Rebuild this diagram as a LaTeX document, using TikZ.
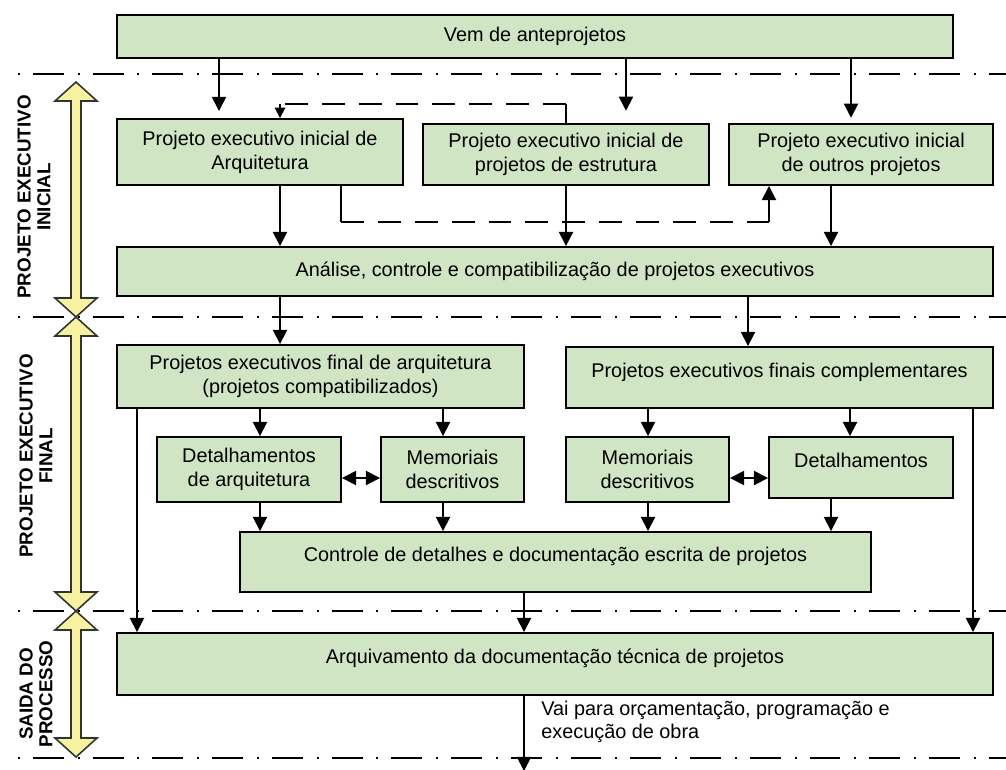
\documentclass[tikz,border=0pt]{standalone}
\usepackage{fontspec}
\setmainfont{Liberation Sans}
\usetikzlibrary{arrows.meta,calc}
\definecolor{BoxGreen}{HTML}{D0E5C3}
\definecolor{PhaseYellow}{HTML}{F7F2A0}
\definecolor{EdgeGray}{HTML}{333333}

\begin{document}
\begin{tikzpicture}[x=0.02cm, y=-0.02cm, >={Triangle[length=8pt,width=8pt]},
    stepbox/.style 2 args={draw, line width=1.1pt, fill=BoxGreen, inner sep=0pt, align=center,
      minimum width=#1*0.02cm, minimum height=#2*0.02cm,
      font=\fontsize{11.3}{13.5}\selectfont},
    link/.style={line width=1pt},
    arr/.style={link, ->},
    dlink/.style={link, dash pattern=on 13pt off 8pt},
    phaseline/.style={line width=1.1pt, dash pattern=on 1.1pt off 7.4pt on 17.6pt off 7.9pt},
    phasebar/.style={draw=EdgeGray, line width=0.9pt, fill=PhaseYellow},
    phaselabel/.style={rotate=90, align=center, font=\bfseries\fontsize{10.7}{11.3}\selectfont}]

    \useasboundingbox (0,0) rectangle (1006,769);

    % phase separators and phase arrows
    \foreach \yy in {74,317,611,758}
      \draw[phaseline] (18,\yy) -- (1006,\yy);
    \foreach \ya/\yb in {82/317,317/611,611/757}
      \draw[phasebar] (76,\ya) -- (97,\ya+19) -- (81,\ya+19) -- (81,\yb-19) -- (97,\yb-19)
        -- (76,\yb) -- (55,\yb-19) -- (71,\yb-19) -- (71,\ya+19) -- (55,\ya+19) -- cycle;

    \node[phaselabel] (lblini) at (34,197) {PROJETO EXECUTIVO\\INICIAL};
    \node[phaselabel] (lblfin) at (36,456) {PROJETO EXECUTIVO\\FINAL};
    \node[phaselabel] (lblout) at (36,694) {SAIDA DO\\PROCESSO};

    % boxes
    \node[stepbox={836}{43}] (vem) at (535,36.5) {Vem de anteprojetos};
    \node[stepbox={286}{66}] (arqi) at (260,152) {Projeto executivo inicial de\\Arquitetura};
    \node[stepbox={286}{61}] (estr) at (566,154.5) {Projeto executivo inicial de\\projetos de estrutura};
    \node[stepbox={264}{61}] (outr) at (861,154.5) {Projeto executivo inicial\\de outros projetos};
    \node[stepbox={876}{49}] (anal) at (555,271.5) {Análise, controle e compatibilização de projetos executivos};
    \node[stepbox={407}{63}] (finarq) at (320.5,376.5) {Projetos executivos final de arquitetura\\(projetos compatibilizados)};
    \node[stepbox={427}{61}] (comp) at (779.5,377.5) {Projetos executivos finais complementares\\[-5pt]\mbox{}};
    \node[stepbox={184}{65}] (detarq) at (249,469.5) {Detalhamentos\\de arquitetura};
    \node[stepbox={143}{65}] (memarq) at (452.5,469.5) {Memoriais\\descritivos};
    \node[stepbox={163}{65}] (memcomp) at (647.5,469.5) {Memoriais\\descritivos};
    \node[stepbox={184}{61}] (detcomp) at (861,467.5) {Detalhamentos\\[-5pt]\mbox{}};
    \node[stepbox={631}{60}] (ctrl) at (555.5,562) {Controle de detalhes e documentação escrita de projetos\\[-5pt]\mbox{}};
    \node[stepbox={876}{62}] (arquiv) at (555,664) {Arquivamento da documentação técnica de projetos\\[-5pt]\mbox{}};
    \node[anchor=west, align=left, inner sep=0pt, font=\fontsize{11.3}{13.5}\selectfont] (obra) at (541,722)
      {Vai para orçamentação, programação e\\execução de obra};

    % initial phase
    \draw[arr, shorten >=4pt] (vem.south -| 219,0) -- (arqi.north -| 219,0);
    \draw[arr, shorten >=7pt] (vem.south -| 626,0) -- (estr.north -| 626,0);
    \draw[arr, shorten >=3pt] (vem.south -| 851,0) -- (outr.north -| 851,0);
    \draw[link] (estr.north -| 566,0) -- (566,104) coordinate (upA);
    \draw[dlink] (upA) -- (280,104) coordinate (upB);
    \draw[link, -{Triangle[length=6pt,width=6pt]}] (upB) -- (arqi.north -| 280,0);
    \draw[link] (arqi.south -| 341,0) -- (341,222) coordinate (dnA);
    \draw[dlink] (dnA) -- (769,222) coordinate (dnB);
    \draw[arr] (dnB) -- (outr.south -| 769,0);
    \draw[arr] (arqi.south -| 280,0) -- (anal.north -| 280,0);
    \draw[arr] (estr.south -| 566,0) -- (anal.north -| 566,0);
    \draw[arr] (outr.south -| 831,0) -- (anal.north -| 831,0);

    % final phase
    \draw[arr] (anal.south -| 280,0) -- (finarq.north -| 280,0);
    \draw[arr] (anal.south -| 748,0) -- (comp.north -| 748,0);
    \draw[arr] (finarq.south -| 260,0) -- (detarq.north -| 260,0);
    \draw[arr] (finarq.south -| 443,0) -- (memarq.north -| 443,0);
    \draw[arr] (comp.south -| 648,0) -- (memcomp.north -| 648,0);
    \draw[arr] (comp.south -| 850,0) -- (detcomp.north -| 850,0);
    \draw[link, <->] (detarq.east |- 0,478) -- (memarq.west |- 0,478);
    \draw[link, <->] (memcomp.east |- 0,478) -- (detcomp.west |- 0,478);
    \draw[arr] (detarq.south -| 260,0) -- (ctrl.north -| 260,0);
    \draw[arr] (memarq.south -| 443,0) -- (ctrl.north -| 443,0);
    \draw[arr] (memcomp.south -| 648,0) -- (ctrl.north -| 648,0);
    \draw[arr] (detcomp.south -| 831,0) -- (ctrl.north -| 831,0);

    % process output
    \draw[arr] (finarq.south -| 137,0) -- (arquiv.north -| 137,0);
    \draw[arr] (comp.south -| 973,0) -- (arquiv.north -| 973,0);
    \draw[arr] (ctrl.south -| 524,0) -- (arquiv.north -| 524,0);
    \coordinate (exit) at (524,771);
    \draw[arr] (arquiv.south -| 524,0) -- (exit);
  \end{tikzpicture}
\end{document}
